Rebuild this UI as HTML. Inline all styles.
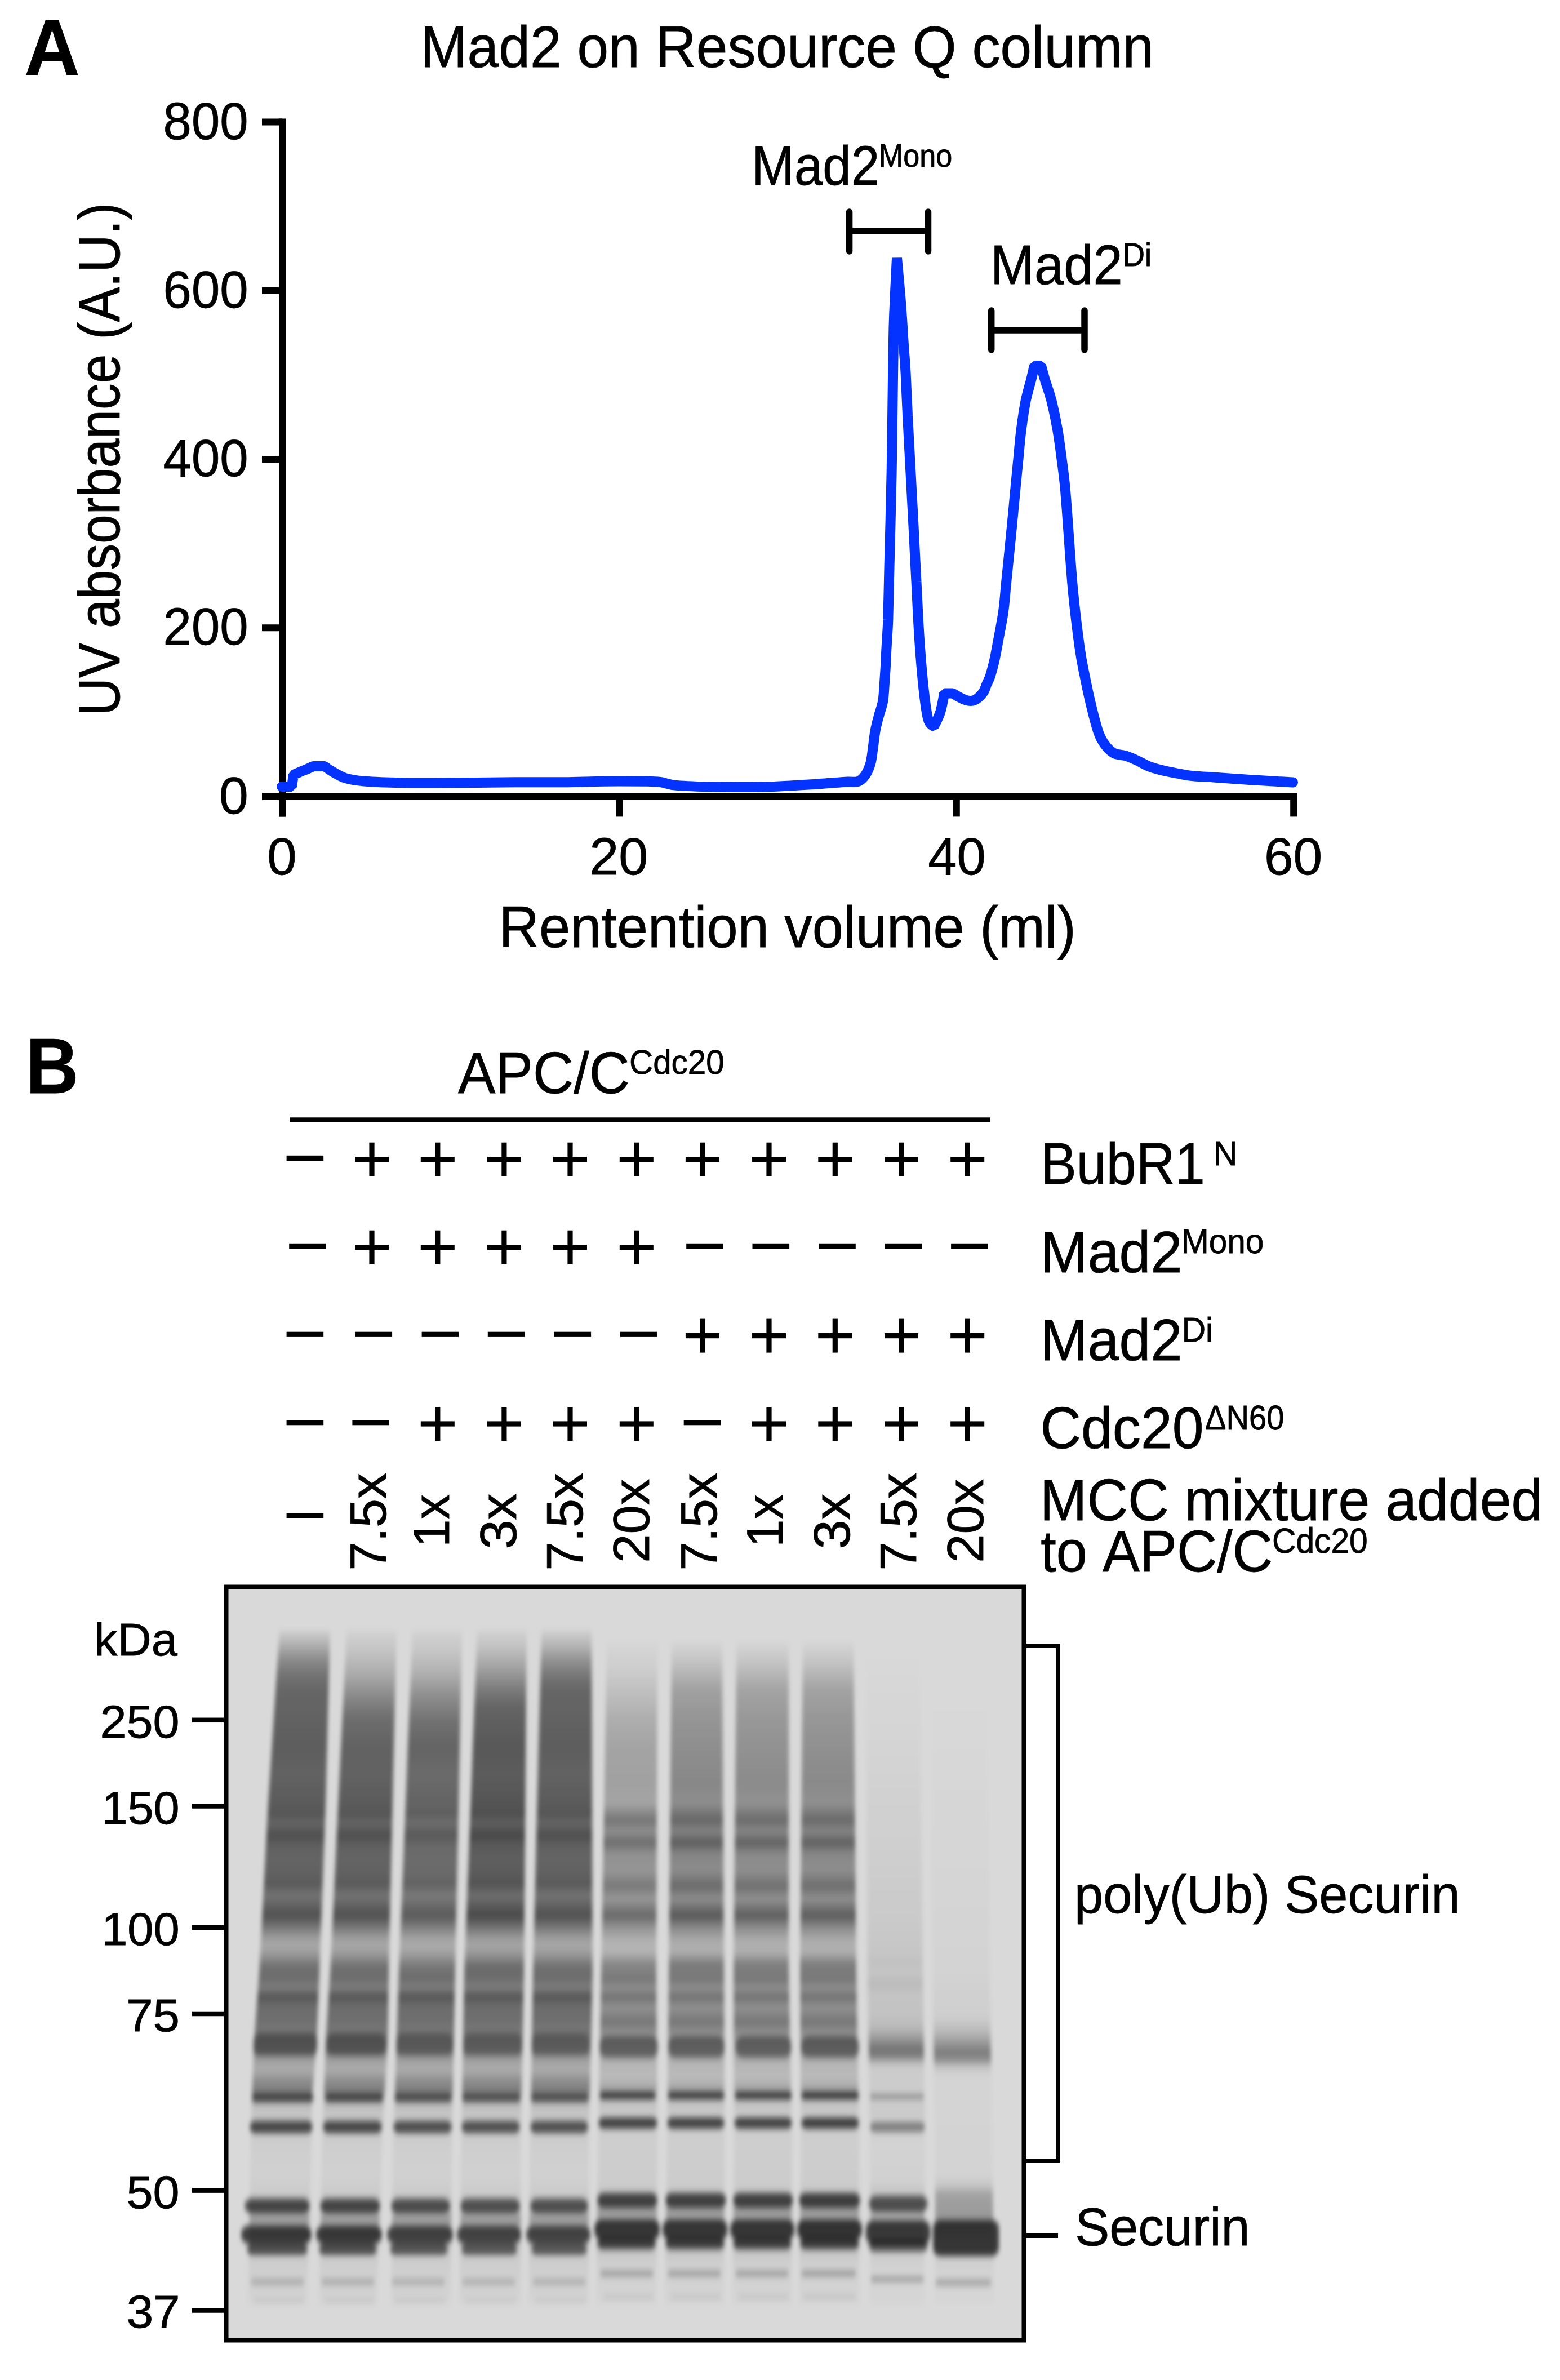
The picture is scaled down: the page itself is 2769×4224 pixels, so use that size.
<!DOCTYPE html>
<html><head><meta charset="utf-8"><style>
html,body{margin:0;padding:0;background:#fff;}
svg{display:block;}
text{font-family:"Liberation Sans", sans-serif;fill:#000;font-kerning:none;stroke:#000;stroke-width:0.8px;}
</style></head><body>
<svg width="2769" height="4224" viewBox="0 0 2769 4224">
<text transform="translate(43.62,133.00) scale(0.9689,1)" font-size="140" font-weight="bold">A</text>
<text transform="translate(746.19,119.00) scale(0.9627,1)" font-size="104">Mad2 on Resource Q column</text>
<path d="M501,210.44000000000005 V1449.4 M465,1413.4 H2302.2" stroke="#000" stroke-width="12" fill="none"/>
<line x1="465" y1="1413.4" x2="501" y2="1413.4" stroke="#000" stroke-width="12"/>
<text transform="translate(389.11,1443.70) scale(1.0000,1)" font-size="93">0</text>
<line x1="465" y1="1114.2" x2="501" y2="1114.2" stroke="#000" stroke-width="12"/>
<text transform="translate(289.61,1144.46) scale(0.9740,1)" font-size="93">200</text>
<line x1="465" y1="814.9" x2="501" y2="814.9" stroke="#000" stroke-width="12"/>
<text transform="translate(289.61,845.22) scale(0.9740,1)" font-size="93">400</text>
<line x1="465" y1="515.7" x2="501" y2="515.7" stroke="#000" stroke-width="12"/>
<text transform="translate(289.61,545.98) scale(0.9740,1)" font-size="93">600</text>
<line x1="465" y1="216.4" x2="501" y2="216.4" stroke="#000" stroke-width="12"/>
<text transform="translate(289.61,246.74) scale(0.9740,1)" font-size="93">800</text>
<line x1="501.0" y1="1413.4" x2="501.0" y2="1449.4" stroke="#000" stroke-width="12"/>
<text transform="translate(474.32,1551.70) scale(1.0122,1)" font-size="93">0</text>
<line x1="1099.4" y1="1413.4" x2="1099.4" y2="1449.4" stroke="#000" stroke-width="12"/>
<text transform="translate(1046.29,1551.70) scale(1.0059,1)" font-size="93">20</text>
<line x1="1697.8" y1="1413.4" x2="1697.8" y2="1449.4" stroke="#000" stroke-width="12"/>
<text transform="translate(1647.34,1551.70) scale(0.9900,1)" font-size="93">40</text>
<line x1="2296.2" y1="1413.4" x2="2296.2" y2="1449.4" stroke="#000" stroke-width="12"/>
<text transform="translate(2243.99,1551.70) scale(0.9980,1)" font-size="93">60</text>
<text transform="translate(211.80,1270.28) rotate(-90) scale(0.8952,1)" font-size="104">UV absorbance (A.U.)</text>
<text transform="translate(885.57,1681.00) scale(0.9528,1)" font-size="104">Rentention volume (ml)</text>
<path d="M500.0,1396.0 C503.0,1396.0 518.0,1396.0 518.0,1396.0 C518.0,1396.0 521.0,1375.0 521.0,1375.0 C521.0,1375.0 531.0,1370.7 535.0,1369.0 C539.0,1367.3 541.5,1366.5 545.0,1365.0 C548.5,1363.5 556.0,1360.0 556.0,1360.0 C556.0,1360.0 577.0,1360.0 577.0,1360.0 C577.0,1360.0 580.0,1363.5 586.0,1367.0 C592.0,1370.5 602.9,1377.8 613.0,1381.0 C623.1,1384.2 630.0,1385.1 646.7,1386.5 C663.4,1387.9 685.3,1388.8 713.0,1389.3 C740.7,1389.8 779.7,1389.5 813.0,1389.3 C846.3,1389.1 881.8,1388.5 913.0,1388.3 C944.2,1388.1 973.5,1388.5 1000.0,1388.2 C1026.5,1387.9 1047.9,1387.0 1071.8,1386.7 C1095.7,1386.5 1126.8,1386.5 1143.6,1386.7 C1160.3,1386.9 1162.7,1386.8 1172.3,1388.0 C1181.9,1389.2 1184.9,1392.5 1201.0,1393.9 C1217.1,1395.3 1242.7,1396.1 1269.0,1396.5 C1295.3,1396.9 1329.0,1397.3 1359.0,1396.5 C1389.0,1395.7 1425.2,1393.2 1448.7,1391.7 C1472.2,1390.2 1487.6,1388.5 1500.0,1387.7 C1512.4,1386.9 1517.0,1389.0 1523.0,1387.0 C1529.0,1385.0 1532.3,1380.9 1536.0,1375.5 C1539.7,1370.1 1543.0,1362.5 1545.2,1354.7 C1547.4,1346.9 1548.0,1338.1 1549.4,1328.5 C1550.8,1318.9 1551.8,1306.6 1553.6,1297.0 C1555.3,1287.4 1557.6,1279.5 1559.9,1270.7 C1562.2,1262.0 1565.5,1254.1 1567.2,1244.5 C1568.9,1234.9 1569.1,1223.5 1569.9,1213.0 C1570.7,1202.5 1571.4,1192.0 1572.0,1181.5 C1572.6,1171.0 1572.8,1163.6 1573.5,1150.0 C1574.2,1136.4 1575.5,1123.8 1576.3,1100.0 C1577.1,1076.2 1577.8,1035.2 1578.5,1006.9 C1579.2,978.6 1579.8,957.8 1580.5,930.0 C1581.2,902.2 1582.0,872.3 1582.6,840.3 C1583.2,808.2 1583.7,767.6 1584.1,737.7 C1584.5,707.8 1584.8,682.2 1585.1,660.8 C1585.4,639.4 1585.6,626.6 1585.9,609.5 C1586.2,592.4 1586.2,583.5 1587.2,558.2 C1588.2,533.0 1592.0,458.0 1592.0,458.0 C1592.0,458.0 1597.0,511.4 1599.0,536.6 C1601.0,561.9 1602.4,588.8 1603.8,609.5 C1605.2,630.2 1606.3,639.4 1607.5,660.8 C1608.7,682.2 1609.5,707.8 1611.0,737.7 C1612.5,767.6 1614.8,808.2 1616.5,840.3 C1618.2,872.3 1619.6,898.0 1621.3,930.0 C1623.0,962.0 1624.7,998.4 1626.5,1032.6 C1628.3,1066.8 1629.8,1103.0 1632.0,1135.1 C1634.2,1167.1 1637.1,1201.4 1639.7,1224.9 C1642.3,1248.4 1644.4,1265.5 1647.4,1276.2 C1650.4,1286.9 1657.7,1289.0 1657.7,1289.0 C1657.7,1289.0 1666.2,1273.0 1669.2,1263.3 C1672.2,1253.5 1676.0,1230.5 1676.0,1230.5 C1676.0,1230.5 1691.0,1230.5 1691.0,1230.5 C1691.0,1230.5 1707.5,1240.5 1714.0,1242.5 C1720.5,1244.5 1724.8,1244.8 1730.0,1242.5 C1735.2,1240.2 1741.4,1233.8 1745.0,1229.0 C1748.6,1224.2 1749.4,1218.8 1751.5,1214.0 C1753.6,1209.2 1755.3,1207.3 1757.6,1200.0 C1759.9,1192.7 1763.2,1180.3 1765.5,1170.0 C1767.8,1159.7 1769.0,1152.2 1771.6,1138.0 C1774.2,1123.8 1778.5,1103.0 1781.0,1085.0 C1783.5,1067.0 1783.9,1055.8 1786.5,1030.0 C1789.1,1004.2 1793.8,957.3 1796.5,930.0 C1799.2,902.7 1800.7,885.2 1802.5,866.0 C1804.3,846.8 1805.8,831.7 1807.5,814.6 C1809.2,797.5 1810.4,780.4 1812.6,763.3 C1814.8,746.2 1817.5,727.0 1820.5,712.0 C1823.5,697.0 1827.7,684.1 1830.3,673.6 C1832.9,663.1 1836.0,649.0 1836.0,649.0 C1836.0,649.0 1848.0,649.0 1848.0,649.0 C1848.0,649.0 1851.6,663.1 1854.7,673.6 C1857.8,684.1 1862.8,697.0 1866.6,712.0 C1870.3,727.0 1874.2,746.2 1877.2,763.3 C1880.2,780.4 1882.3,797.5 1884.5,814.6 C1886.7,831.7 1888.5,843.4 1890.6,866.0 C1892.7,888.6 1894.7,919.3 1897.0,950.0 C1899.3,980.7 1901.5,1016.7 1904.7,1050.0 C1908.0,1083.3 1913.0,1125.0 1916.5,1150.0 C1920.0,1175.0 1922.2,1183.3 1925.5,1200.0 C1928.8,1216.7 1932.2,1233.3 1936.3,1250.0 C1940.3,1266.7 1945.8,1288.3 1949.8,1300.0 C1953.8,1311.7 1956.6,1314.8 1960.0,1320.0 C1963.4,1325.2 1966.7,1328.5 1970.0,1331.5 C1973.3,1334.5 1975.5,1336.4 1980.0,1338.0 C1984.5,1339.6 1990.7,1339.3 1997.0,1341.2 C2003.3,1343.1 2011.1,1346.4 2018.1,1349.6 C2025.1,1352.8 2032.1,1357.3 2039.1,1360.1 C2046.1,1362.9 2051.3,1364.2 2060.1,1366.4 C2068.8,1368.6 2082.4,1371.2 2091.6,1373.0 C2100.8,1374.8 2104.6,1375.9 2115.0,1377.0 C2125.4,1378.1 2136.8,1378.3 2154.0,1379.5 C2171.2,1380.7 2198.8,1382.8 2218.0,1384.0 C2237.2,1385.2 2256.2,1386.2 2269.0,1387.0 C2281.8,1387.8 2290.7,1388.2 2295.0,1388.5" stroke="#0433ff" stroke-width="18" fill="none" stroke-linejoin="bevel" stroke-linecap="round"/>
<path d="M1507.6,376 V446 M1647.5,376 V446 M1507.6,410 H1647.5" stroke="#000" stroke-width="11.5" fill="none" stroke-linecap="round"/>
<path d="M1759.7,551 V621 M1925,551 V621 M1759.7,586 H1925" stroke="#000" stroke-width="11.5" fill="none" stroke-linecap="round"/>
<text transform="translate(1334.36,328.00) scale(0.9303,1)" font-size="97.5">Mad2</text>
<text transform="translate(1559.72,296.30) scale(0.9150,1)" font-size="57">Mono</text>
<text transform="translate(1757.90,503.80) scale(0.9628,1)" font-size="97.5">Mad2</text>
<text transform="translate(1992.51,471.80) scale(0.9600,1)" font-size="57">Di</text>
<text transform="translate(45.69,1939.70) scale(0.9300,1)" font-size="140" font-weight="bold">B</text>
<text transform="translate(813.11,1940.00) scale(0.9586,1)" font-size="104">APC/C</text>
<text transform="translate(1117.04,1906.00) scale(0.9404,1)" font-size="62">Cdc20</text>
<rect x="515" y="1983.3" width="1243" height="8.4" fill="#000"/>
<rect x="508.6" y="2050.8" width="65.6" height="9.2"/>
<rect x="630.0" y="2053.1" width="60" height="9.2"/><rect x="655.4" y="2027.7" width="9.2" height="60"/>
<rect x="746.8" y="2053.1" width="60" height="9.2"/><rect x="772.2" y="2027.7" width="9.2" height="60"/>
<rect x="864.9" y="2053.1" width="60" height="9.2"/><rect x="890.3" y="2027.7" width="9.2" height="60"/>
<rect x="982.0" y="2053.1" width="60" height="9.2"/><rect x="1007.4" y="2027.7" width="9.2" height="60"/>
<rect x="1099.8" y="2053.1" width="60" height="9.2"/><rect x="1125.2" y="2027.7" width="9.2" height="60"/>
<rect x="1216.9" y="2053.1" width="60" height="9.2"/><rect x="1242.3" y="2027.7" width="9.2" height="60"/>
<rect x="1335.0" y="2053.1" width="60" height="9.2"/><rect x="1360.4" y="2027.7" width="9.2" height="60"/>
<rect x="1452.3" y="2053.1" width="60" height="9.2"/><rect x="1477.7" y="2027.7" width="9.2" height="60"/>
<rect x="1570.0" y="2053.1" width="60" height="9.2"/><rect x="1595.4" y="2027.7" width="9.2" height="60"/>
<rect x="1687.2" y="2053.1" width="60" height="9.2"/><rect x="1712.6" y="2027.7" width="9.2" height="60"/>
<rect x="513.2" y="2206.8" width="65.6" height="9.2"/>
<rect x="630.0" y="2209.1" width="60" height="9.2"/><rect x="655.4" y="2183.7" width="9.2" height="60"/>
<rect x="746.8" y="2209.1" width="60" height="9.2"/><rect x="772.2" y="2183.7" width="9.2" height="60"/>
<rect x="864.9" y="2209.1" width="60" height="9.2"/><rect x="890.3" y="2183.7" width="9.2" height="60"/>
<rect x="982.0" y="2209.1" width="60" height="9.2"/><rect x="1007.4" y="2183.7" width="9.2" height="60"/>
<rect x="1099.8" y="2209.1" width="60" height="9.2"/><rect x="1125.2" y="2183.7" width="9.2" height="60"/>
<rect x="1218.2" y="2206.8" width="65.6" height="9.2"/>
<rect x="1335.5" y="2206.8" width="65.6" height="9.2"/>
<rect x="1453.2" y="2206.8" width="65.6" height="9.2"/>
<rect x="1570.5" y="2206.8" width="65.6" height="9.2"/>
<rect x="1688.1" y="2206.8" width="65.6" height="9.2"/>
<rect x="508.6" y="2363.7" width="65.6" height="9.2"/>
<rect x="630.5" y="2363.7" width="65.6" height="9.2"/>
<rect x="748.6" y="2363.7" width="65.6" height="9.2"/>
<rect x="865.8" y="2363.7" width="65.6" height="9.2"/>
<rect x="983.5" y="2363.7" width="65.6" height="9.2"/>
<rect x="1100.8" y="2363.7" width="65.6" height="9.2"/>
<rect x="1216.9" y="2366.0" width="60" height="9.2"/><rect x="1242.3" y="2340.6" width="9.2" height="60"/>
<rect x="1335.0" y="2366.0" width="60" height="9.2"/><rect x="1360.4" y="2340.6" width="9.2" height="60"/>
<rect x="1452.3" y="2366.0" width="60" height="9.2"/><rect x="1477.7" y="2340.6" width="9.2" height="60"/>
<rect x="1570.0" y="2366.0" width="60" height="9.2"/><rect x="1595.4" y="2340.6" width="9.2" height="60"/>
<rect x="1687.2" y="2366.0" width="60" height="9.2"/><rect x="1712.6" y="2340.6" width="9.2" height="60"/>
<rect x="508.6" y="2520.1" width="65.6" height="9.2"/>
<rect x="625.4" y="2520.1" width="65.6" height="9.2"/>
<rect x="746.8" y="2522.4" width="60" height="9.2"/><rect x="772.2" y="2497.0" width="9.2" height="60"/>
<rect x="864.9" y="2522.4" width="60" height="9.2"/><rect x="890.3" y="2497.0" width="9.2" height="60"/>
<rect x="982.0" y="2522.4" width="60" height="9.2"/><rect x="1007.4" y="2497.0" width="9.2" height="60"/>
<rect x="1099.8" y="2522.4" width="60" height="9.2"/><rect x="1125.2" y="2497.0" width="9.2" height="60"/>
<rect x="1213.7" y="2520.1" width="65.6" height="9.2"/>
<rect x="1335.0" y="2522.4" width="60" height="9.2"/><rect x="1360.4" y="2497.0" width="9.2" height="60"/>
<rect x="1452.3" y="2522.4" width="60" height="9.2"/><rect x="1477.7" y="2497.0" width="9.2" height="60"/>
<rect x="1570.0" y="2522.4" width="60" height="9.2"/><rect x="1595.4" y="2497.0" width="9.2" height="60"/>
<rect x="1687.2" y="2522.4" width="60" height="9.2"/><rect x="1712.6" y="2497.0" width="9.2" height="60"/>
<rect x="508.6" y="2685.4" width="65.6" height="9.2"/>
<text transform="translate(1847.28,2101.00) scale(0.9163,1)" font-size="104">BubR1</text>
<text transform="translate(2153.40,2068.00) scale(0.9707,1)" font-size="61.6">N</text>
<text transform="translate(1846.85,2258.30) scale(0.9676,1)" font-size="104">Mad2</text>
<text transform="translate(2096.89,2224.40) scale(0.9605,1)" font-size="61">Mono</text>
<text transform="translate(1846.74,2414.20) scale(0.9680,1)" font-size="104">Mad2</text>
<text transform="translate(2097.46,2381.00) scale(0.9672,1)" font-size="61">Di</text>
<text transform="translate(1846.61,2570.00) scale(0.9647,1)" font-size="104">Cdc20</text>
<text transform="translate(2138.93,2536.50) scale(0.9202,1)" font-size="61">&#916;N60</text>
<text transform="translate(1845.87,2698.40) scale(0.9652,1)" font-size="104">MCC mixture added</text>
<text transform="translate(1847.20,2788.80) scale(0.9504,1)" font-size="104">to APC/C</text>
<text transform="translate(2258.02,2755.80) scale(0.9467,1)" font-size="62">Cdc20</text>
<text transform="translate(685.40,2787.40) rotate(-90) scale(1.0081,1)" font-size="91">7.5x</text>
<text transform="translate(796.80,2745.64) rotate(-90) scale(0.9716,1)" font-size="91">1x</text>
<text transform="translate(916.20,2749.57) rotate(-90) scale(1.0309,1)" font-size="91">3x</text>
<text transform="translate(1033.80,2787.40) rotate(-90) scale(1.0081,1)" font-size="91">7.5x</text>
<text transform="translate(1151.50,2773.64) rotate(-90) scale(1.0130,1)" font-size="91">20x</text>
<text transform="translate(1272.30,2787.40) rotate(-90) scale(1.0081,1)" font-size="91">7.5x</text>
<text transform="translate(1389.00,2745.64) rotate(-90) scale(0.9716,1)" font-size="91">1x</text>
<text transform="translate(1507.70,2749.57) rotate(-90) scale(1.0309,1)" font-size="91">3x</text>
<text transform="translate(1626.30,2787.40) rotate(-90) scale(1.0081,1)" font-size="91">7.5x</text>
<text transform="translate(1744.50,2773.64) rotate(-90) scale(1.0130,1)" font-size="91">20x</text>
<text transform="translate(167.10,2937.90) scale(1.0136,1)" font-size="82">kDa</text>
<text transform="translate(177.55,3083.60) scale(1.0310,1)" font-size="82">250</text>
<rect x="341" y="3048.55" width="60" height="8.5"/>
<text transform="translate(180.39,3237.00) scale(1.0097,1)" font-size="82">150</text>
<rect x="341" y="3201.25" width="60" height="8.5"/>
<text transform="translate(180.18,3452.00) scale(1.0113,1)" font-size="82">100</text>
<rect x="341" y="3416.75" width="60" height="8.5"/>
<text transform="translate(224.13,3605.00) scale(1.0388,1)" font-size="82">75</text>
<rect x="341" y="3569.75" width="60" height="8.5"/>
<text transform="translate(224.51,3919.00) scale(1.0316,1)" font-size="82">50</text>
<rect x="341" y="3883.35" width="60" height="8.5"/>
<text transform="translate(224.65,4131.00) scale(1.0409,1)" font-size="82">37</text>
<rect x="341" y="4096.25" width="60" height="8.5"/>
<path d="M1821,2921 H1878 V3835 H1821" stroke="#000" stroke-width="8" fill="none"/>
<rect x="1821" y="3963" width="57" height="9"/>
<text transform="translate(1907.07,3394.80) scale(0.9678,1)" font-size="95">poly(Ub) Securin</text>
<text transform="translate(1908.24,3984.50) scale(0.9633,1)" font-size="95">Securin</text>
<defs>
<filter id="lb" filterUnits="userSpaceOnUse" x="380" y="2800" width="1460" height="1380"><feGaussianBlur stdDeviation="3.5 6.0"/></filter>
<linearGradient id="lg0" gradientUnits="userSpaceOnUse" x1="0" y1="2821" x2="0" y2="4149"><stop offset="0.0557" stop-color="#000" stop-opacity="0.055"/><stop offset="0.0708" stop-color="#000" stop-opacity="0.161"/><stop offset="0.0934" stop-color="#000" stop-opacity="0.355"/><stop offset="0.1130" stop-color="#000" stop-opacity="0.465"/><stop offset="0.1348" stop-color="#000" stop-opacity="0.530"/><stop offset="0.2101" stop-color="#000" stop-opacity="0.567"/><stop offset="0.2477" stop-color="#000" stop-opacity="0.548"/><stop offset="0.2907" stop-color="#000" stop-opacity="0.585"/><stop offset="0.2989" stop-color="#000" stop-opacity="0.613"/><stop offset="0.3117" stop-color="#000" stop-opacity="0.530"/><stop offset="0.3291" stop-color="#000" stop-opacity="0.641"/><stop offset="0.3419" stop-color="#000" stop-opacity="0.558"/><stop offset="0.3607" stop-color="#000" stop-opacity="0.539"/><stop offset="0.3840" stop-color="#000" stop-opacity="0.558"/><stop offset="0.3923" stop-color="#000" stop-opacity="0.594"/><stop offset="0.4096" stop-color="#000" stop-opacity="0.465"/><stop offset="0.4262" stop-color="#000" stop-opacity="0.576"/><stop offset="0.4360" stop-color="#000" stop-opacity="0.631"/><stop offset="0.4511" stop-color="#000" stop-opacity="0.456"/><stop offset="0.4661" stop-color="#000" stop-opacity="0.272"/><stop offset="0.4774" stop-color="#000" stop-opacity="0.226"/><stop offset="0.4887" stop-color="#000" stop-opacity="0.309"/><stop offset="0.5038" stop-color="#000" stop-opacity="0.484"/><stop offset="0.5188" stop-color="#000" stop-opacity="0.502"/><stop offset="0.5324" stop-color="#000" stop-opacity="0.419"/><stop offset="0.5444" stop-color="#000" stop-opacity="0.613"/><stop offset="0.5565" stop-color="#000" stop-opacity="0.502"/><stop offset="0.5738" stop-color="#000" stop-opacity="0.493"/><stop offset="0.5866" stop-color="#000" stop-opacity="0.456"/><stop offset="0.5956" stop-color="#000" stop-opacity="0.484"/><stop offset="0.6167" stop-color="#000" stop-opacity="0.456"/><stop offset="0.6280" stop-color="#000" stop-opacity="0.263"/><stop offset="0.6431" stop-color="#000" stop-opacity="0.207"/><stop offset="0.6574" stop-color="#000" stop-opacity="0.355"/><stop offset="0.6709" stop-color="#000" stop-opacity="0.424"/><stop offset="0.6883" stop-color="#000" stop-opacity="0.134"/><stop offset="0.6995" stop-color="#000" stop-opacity="0.088"/><stop offset="0.7086" stop-color="#000" stop-opacity="0.101"/><stop offset="0.7297" stop-color="#000" stop-opacity="0.065"/><stop offset="0.7447" stop-color="#000" stop-opacity="0.051"/><stop offset="0.7824" stop-color="#000" stop-opacity="0.041"/><stop offset="0.8050" stop-color="#000" stop-opacity="0.060"/><stop offset="0.8291" stop-color="#000" stop-opacity="0.171"/><stop offset="0.8426" stop-color="#000" stop-opacity="0.309"/><stop offset="0.8562" stop-color="#000" stop-opacity="0.147"/><stop offset="0.8878" stop-color="#000" stop-opacity="0.078"/><stop offset="0.9029" stop-color="#000" stop-opacity="0.051"/><stop offset="0.9556" stop-color="#000" stop-opacity="0.023"/></linearGradient>
<linearGradient id="lg1" gradientUnits="userSpaceOnUse" x1="0" y1="2821" x2="0" y2="4149"><stop offset="0.0557" stop-color="#000" stop-opacity="0.032"/><stop offset="0.0821" stop-color="#000" stop-opacity="0.097"/><stop offset="0.1122" stop-color="#000" stop-opacity="0.207"/><stop offset="0.1423" stop-color="#000" stop-opacity="0.364"/><stop offset="0.1709" stop-color="#000" stop-opacity="0.493"/><stop offset="0.2101" stop-color="#000" stop-opacity="0.548"/><stop offset="0.2477" stop-color="#000" stop-opacity="0.548"/><stop offset="0.2907" stop-color="#000" stop-opacity="0.585"/><stop offset="0.2989" stop-color="#000" stop-opacity="0.613"/><stop offset="0.3117" stop-color="#000" stop-opacity="0.530"/><stop offset="0.3291" stop-color="#000" stop-opacity="0.641"/><stop offset="0.3419" stop-color="#000" stop-opacity="0.558"/><stop offset="0.3607" stop-color="#000" stop-opacity="0.539"/><stop offset="0.3840" stop-color="#000" stop-opacity="0.558"/><stop offset="0.3923" stop-color="#000" stop-opacity="0.594"/><stop offset="0.4096" stop-color="#000" stop-opacity="0.465"/><stop offset="0.4262" stop-color="#000" stop-opacity="0.576"/><stop offset="0.4360" stop-color="#000" stop-opacity="0.631"/><stop offset="0.4511" stop-color="#000" stop-opacity="0.456"/><stop offset="0.4661" stop-color="#000" stop-opacity="0.272"/><stop offset="0.4774" stop-color="#000" stop-opacity="0.226"/><stop offset="0.4887" stop-color="#000" stop-opacity="0.309"/><stop offset="0.5038" stop-color="#000" stop-opacity="0.484"/><stop offset="0.5188" stop-color="#000" stop-opacity="0.502"/><stop offset="0.5324" stop-color="#000" stop-opacity="0.419"/><stop offset="0.5444" stop-color="#000" stop-opacity="0.613"/><stop offset="0.5565" stop-color="#000" stop-opacity="0.502"/><stop offset="0.5738" stop-color="#000" stop-opacity="0.493"/><stop offset="0.5866" stop-color="#000" stop-opacity="0.456"/><stop offset="0.5956" stop-color="#000" stop-opacity="0.484"/><stop offset="0.6167" stop-color="#000" stop-opacity="0.456"/><stop offset="0.6280" stop-color="#000" stop-opacity="0.263"/><stop offset="0.6431" stop-color="#000" stop-opacity="0.207"/><stop offset="0.6574" stop-color="#000" stop-opacity="0.355"/><stop offset="0.6709" stop-color="#000" stop-opacity="0.424"/><stop offset="0.6883" stop-color="#000" stop-opacity="0.134"/><stop offset="0.6995" stop-color="#000" stop-opacity="0.088"/><stop offset="0.7086" stop-color="#000" stop-opacity="0.101"/><stop offset="0.7297" stop-color="#000" stop-opacity="0.065"/><stop offset="0.7447" stop-color="#000" stop-opacity="0.051"/><stop offset="0.7824" stop-color="#000" stop-opacity="0.041"/><stop offset="0.8050" stop-color="#000" stop-opacity="0.060"/><stop offset="0.8291" stop-color="#000" stop-opacity="0.171"/><stop offset="0.8426" stop-color="#000" stop-opacity="0.309"/><stop offset="0.8562" stop-color="#000" stop-opacity="0.147"/><stop offset="0.8878" stop-color="#000" stop-opacity="0.078"/><stop offset="0.9029" stop-color="#000" stop-opacity="0.051"/><stop offset="0.9556" stop-color="#000" stop-opacity="0.023"/></linearGradient>
<linearGradient id="lg2" gradientUnits="userSpaceOnUse" x1="0" y1="2821" x2="0" y2="4149"><stop offset="0.0557" stop-color="#000" stop-opacity="0.032"/><stop offset="0.0821" stop-color="#000" stop-opacity="0.088"/><stop offset="0.1122" stop-color="#000" stop-opacity="0.189"/><stop offset="0.1423" stop-color="#000" stop-opacity="0.346"/><stop offset="0.1777" stop-color="#000" stop-opacity="0.484"/><stop offset="0.2101" stop-color="#000" stop-opacity="0.539"/><stop offset="0.2477" stop-color="#000" stop-opacity="0.510"/><stop offset="0.2907" stop-color="#000" stop-opacity="0.544"/><stop offset="0.2989" stop-color="#000" stop-opacity="0.570"/><stop offset="0.3117" stop-color="#000" stop-opacity="0.493"/><stop offset="0.3291" stop-color="#000" stop-opacity="0.596"/><stop offset="0.3419" stop-color="#000" stop-opacity="0.519"/><stop offset="0.3607" stop-color="#000" stop-opacity="0.501"/><stop offset="0.3840" stop-color="#000" stop-opacity="0.519"/><stop offset="0.3923" stop-color="#000" stop-opacity="0.553"/><stop offset="0.4096" stop-color="#000" stop-opacity="0.433"/><stop offset="0.4262" stop-color="#000" stop-opacity="0.536"/><stop offset="0.4360" stop-color="#000" stop-opacity="0.587"/><stop offset="0.4511" stop-color="#000" stop-opacity="0.424"/><stop offset="0.4661" stop-color="#000" stop-opacity="0.253"/><stop offset="0.4774" stop-color="#000" stop-opacity="0.210"/><stop offset="0.4887" stop-color="#000" stop-opacity="0.287"/><stop offset="0.5038" stop-color="#000" stop-opacity="0.450"/><stop offset="0.5188" stop-color="#000" stop-opacity="0.502"/><stop offset="0.5324" stop-color="#000" stop-opacity="0.419"/><stop offset="0.5444" stop-color="#000" stop-opacity="0.613"/><stop offset="0.5565" stop-color="#000" stop-opacity="0.502"/><stop offset="0.5738" stop-color="#000" stop-opacity="0.493"/><stop offset="0.5866" stop-color="#000" stop-opacity="0.456"/><stop offset="0.5956" stop-color="#000" stop-opacity="0.484"/><stop offset="0.6167" stop-color="#000" stop-opacity="0.456"/><stop offset="0.6280" stop-color="#000" stop-opacity="0.263"/><stop offset="0.6431" stop-color="#000" stop-opacity="0.207"/><stop offset="0.6574" stop-color="#000" stop-opacity="0.355"/><stop offset="0.6709" stop-color="#000" stop-opacity="0.424"/><stop offset="0.6883" stop-color="#000" stop-opacity="0.134"/><stop offset="0.6995" stop-color="#000" stop-opacity="0.088"/><stop offset="0.7086" stop-color="#000" stop-opacity="0.101"/><stop offset="0.7297" stop-color="#000" stop-opacity="0.065"/><stop offset="0.7447" stop-color="#000" stop-opacity="0.051"/><stop offset="0.7824" stop-color="#000" stop-opacity="0.041"/><stop offset="0.8050" stop-color="#000" stop-opacity="0.060"/><stop offset="0.8291" stop-color="#000" stop-opacity="0.171"/><stop offset="0.8426" stop-color="#000" stop-opacity="0.309"/><stop offset="0.8562" stop-color="#000" stop-opacity="0.147"/><stop offset="0.8878" stop-color="#000" stop-opacity="0.078"/><stop offset="0.9029" stop-color="#000" stop-opacity="0.051"/><stop offset="0.9556" stop-color="#000" stop-opacity="0.023"/></linearGradient>
<linearGradient id="lg3" gradientUnits="userSpaceOnUse" x1="0" y1="2821" x2="0" y2="4149"><stop offset="0.0557" stop-color="#000" stop-opacity="0.041"/><stop offset="0.0745" stop-color="#000" stop-opacity="0.097"/><stop offset="0.1047" stop-color="#000" stop-opacity="0.253"/><stop offset="0.1348" stop-color="#000" stop-opacity="0.438"/><stop offset="0.1574" stop-color="#000" stop-opacity="0.539"/><stop offset="0.2101" stop-color="#000" stop-opacity="0.594"/><stop offset="0.2477" stop-color="#000" stop-opacity="0.576"/><stop offset="0.2907" stop-color="#000" stop-opacity="0.615"/><stop offset="0.2989" stop-color="#000" stop-opacity="0.644"/><stop offset="0.3117" stop-color="#000" stop-opacity="0.556"/><stop offset="0.3291" stop-color="#000" stop-opacity="0.673"/><stop offset="0.3419" stop-color="#000" stop-opacity="0.585"/><stop offset="0.3607" stop-color="#000" stop-opacity="0.566"/><stop offset="0.3840" stop-color="#000" stop-opacity="0.585"/><stop offset="0.3923" stop-color="#000" stop-opacity="0.624"/><stop offset="0.4096" stop-color="#000" stop-opacity="0.489"/><stop offset="0.4262" stop-color="#000" stop-opacity="0.605"/><stop offset="0.4360" stop-color="#000" stop-opacity="0.663"/><stop offset="0.4511" stop-color="#000" stop-opacity="0.479"/><stop offset="0.4661" stop-color="#000" stop-opacity="0.285"/><stop offset="0.4774" stop-color="#000" stop-opacity="0.237"/><stop offset="0.4887" stop-color="#000" stop-opacity="0.324"/><stop offset="0.5038" stop-color="#000" stop-opacity="0.508"/><stop offset="0.5188" stop-color="#000" stop-opacity="0.502"/><stop offset="0.5324" stop-color="#000" stop-opacity="0.419"/><stop offset="0.5444" stop-color="#000" stop-opacity="0.613"/><stop offset="0.5565" stop-color="#000" stop-opacity="0.502"/><stop offset="0.5738" stop-color="#000" stop-opacity="0.493"/><stop offset="0.5866" stop-color="#000" stop-opacity="0.456"/><stop offset="0.5956" stop-color="#000" stop-opacity="0.484"/><stop offset="0.6167" stop-color="#000" stop-opacity="0.456"/><stop offset="0.6280" stop-color="#000" stop-opacity="0.263"/><stop offset="0.6431" stop-color="#000" stop-opacity="0.207"/><stop offset="0.6574" stop-color="#000" stop-opacity="0.355"/><stop offset="0.6709" stop-color="#000" stop-opacity="0.424"/><stop offset="0.6883" stop-color="#000" stop-opacity="0.134"/><stop offset="0.6995" stop-color="#000" stop-opacity="0.088"/><stop offset="0.7086" stop-color="#000" stop-opacity="0.101"/><stop offset="0.7297" stop-color="#000" stop-opacity="0.065"/><stop offset="0.7447" stop-color="#000" stop-opacity="0.051"/><stop offset="0.7824" stop-color="#000" stop-opacity="0.041"/><stop offset="0.8050" stop-color="#000" stop-opacity="0.060"/><stop offset="0.8291" stop-color="#000" stop-opacity="0.171"/><stop offset="0.8426" stop-color="#000" stop-opacity="0.309"/><stop offset="0.8562" stop-color="#000" stop-opacity="0.147"/><stop offset="0.8878" stop-color="#000" stop-opacity="0.078"/><stop offset="0.9029" stop-color="#000" stop-opacity="0.051"/><stop offset="0.9556" stop-color="#000" stop-opacity="0.023"/></linearGradient>
<linearGradient id="lg4" gradientUnits="userSpaceOnUse" x1="0" y1="2821" x2="0" y2="4149"><stop offset="0.0557" stop-color="#000" stop-opacity="0.051"/><stop offset="0.0745" stop-color="#000" stop-opacity="0.161"/><stop offset="0.0971" stop-color="#000" stop-opacity="0.346"/><stop offset="0.1197" stop-color="#000" stop-opacity="0.475"/><stop offset="0.1348" stop-color="#000" stop-opacity="0.530"/><stop offset="0.2101" stop-color="#000" stop-opacity="0.567"/><stop offset="0.2477" stop-color="#000" stop-opacity="0.548"/><stop offset="0.2907" stop-color="#000" stop-opacity="0.585"/><stop offset="0.2989" stop-color="#000" stop-opacity="0.613"/><stop offset="0.3117" stop-color="#000" stop-opacity="0.530"/><stop offset="0.3291" stop-color="#000" stop-opacity="0.641"/><stop offset="0.3419" stop-color="#000" stop-opacity="0.558"/><stop offset="0.3607" stop-color="#000" stop-opacity="0.539"/><stop offset="0.3840" stop-color="#000" stop-opacity="0.558"/><stop offset="0.3923" stop-color="#000" stop-opacity="0.594"/><stop offset="0.4096" stop-color="#000" stop-opacity="0.465"/><stop offset="0.4262" stop-color="#000" stop-opacity="0.576"/><stop offset="0.4360" stop-color="#000" stop-opacity="0.631"/><stop offset="0.4511" stop-color="#000" stop-opacity="0.456"/><stop offset="0.4661" stop-color="#000" stop-opacity="0.272"/><stop offset="0.4774" stop-color="#000" stop-opacity="0.226"/><stop offset="0.4887" stop-color="#000" stop-opacity="0.309"/><stop offset="0.5038" stop-color="#000" stop-opacity="0.484"/><stop offset="0.5188" stop-color="#000" stop-opacity="0.502"/><stop offset="0.5324" stop-color="#000" stop-opacity="0.419"/><stop offset="0.5444" stop-color="#000" stop-opacity="0.613"/><stop offset="0.5565" stop-color="#000" stop-opacity="0.502"/><stop offset="0.5738" stop-color="#000" stop-opacity="0.493"/><stop offset="0.5866" stop-color="#000" stop-opacity="0.456"/><stop offset="0.5956" stop-color="#000" stop-opacity="0.484"/><stop offset="0.6167" stop-color="#000" stop-opacity="0.456"/><stop offset="0.6280" stop-color="#000" stop-opacity="0.263"/><stop offset="0.6431" stop-color="#000" stop-opacity="0.207"/><stop offset="0.6574" stop-color="#000" stop-opacity="0.355"/><stop offset="0.6709" stop-color="#000" stop-opacity="0.424"/><stop offset="0.6883" stop-color="#000" stop-opacity="0.134"/><stop offset="0.6995" stop-color="#000" stop-opacity="0.088"/><stop offset="0.7086" stop-color="#000" stop-opacity="0.101"/><stop offset="0.7297" stop-color="#000" stop-opacity="0.065"/><stop offset="0.7447" stop-color="#000" stop-opacity="0.051"/><stop offset="0.7824" stop-color="#000" stop-opacity="0.041"/><stop offset="0.8050" stop-color="#000" stop-opacity="0.060"/><stop offset="0.8291" stop-color="#000" stop-opacity="0.171"/><stop offset="0.8426" stop-color="#000" stop-opacity="0.309"/><stop offset="0.8562" stop-color="#000" stop-opacity="0.147"/><stop offset="0.8878" stop-color="#000" stop-opacity="0.078"/><stop offset="0.9029" stop-color="#000" stop-opacity="0.051"/><stop offset="0.9556" stop-color="#000" stop-opacity="0.023"/></linearGradient>
<linearGradient id="lg5" gradientUnits="userSpaceOnUse" x1="0" y1="2821" x2="0" y2="4149"><stop offset="0.0708" stop-color="#000" stop-opacity="0.014"/><stop offset="0.1047" stop-color="#000" stop-opacity="0.051"/><stop offset="0.1348" stop-color="#000" stop-opacity="0.115"/><stop offset="0.1724" stop-color="#000" stop-opacity="0.198"/><stop offset="0.2101" stop-color="#000" stop-opacity="0.244"/><stop offset="0.2590" stop-color="#000" stop-opacity="0.262"/><stop offset="0.2854" stop-color="#000" stop-opacity="0.240"/><stop offset="0.3087" stop-color="#000" stop-opacity="0.465"/><stop offset="0.3230" stop-color="#000" stop-opacity="0.336"/><stop offset="0.3381" stop-color="#000" stop-opacity="0.502"/><stop offset="0.3532" stop-color="#000" stop-opacity="0.336"/><stop offset="0.3758" stop-color="#000" stop-opacity="0.309"/><stop offset="0.3968" stop-color="#000" stop-opacity="0.447"/><stop offset="0.4134" stop-color="#000" stop-opacity="0.300"/><stop offset="0.4360" stop-color="#000" stop-opacity="0.521"/><stop offset="0.4511" stop-color="#000" stop-opacity="0.327"/><stop offset="0.4699" stop-color="#000" stop-opacity="0.180"/><stop offset="0.4849" stop-color="#000" stop-opacity="0.171"/><stop offset="0.5000" stop-color="#000" stop-opacity="0.373"/><stop offset="0.5226" stop-color="#000" stop-opacity="0.447"/><stop offset="0.5324" stop-color="#000" stop-opacity="0.336"/><stop offset="0.5452" stop-color="#000" stop-opacity="0.484"/><stop offset="0.5580" stop-color="#000" stop-opacity="0.327"/><stop offset="0.5776" stop-color="#000" stop-opacity="0.456"/><stop offset="0.5904" stop-color="#000" stop-opacity="0.355"/><stop offset="0.6017" stop-color="#000" stop-opacity="0.309"/><stop offset="0.6242" stop-color="#000" stop-opacity="0.226"/><stop offset="0.6355" stop-color="#000" stop-opacity="0.161"/><stop offset="0.6544" stop-color="#000" stop-opacity="0.143"/><stop offset="0.6657" stop-color="#000" stop-opacity="0.240"/><stop offset="0.6845" stop-color="#000" stop-opacity="0.115"/><stop offset="0.6995" stop-color="#000" stop-opacity="0.069"/><stop offset="0.7372" stop-color="#000" stop-opacity="0.051"/><stop offset="0.7974" stop-color="#000" stop-opacity="0.060"/><stop offset="0.8163" stop-color="#000" stop-opacity="0.171"/><stop offset="0.8313" stop-color="#000" stop-opacity="0.309"/><stop offset="0.8464" stop-color="#000" stop-opacity="0.171"/><stop offset="0.8803" stop-color="#000" stop-opacity="0.101"/><stop offset="0.9029" stop-color="#000" stop-opacity="0.041"/><stop offset="0.9443" stop-color="#000" stop-opacity="0.023"/></linearGradient>
<linearGradient id="lg6" gradientUnits="userSpaceOnUse" x1="0" y1="2821" x2="0" y2="4149"><stop offset="0.0708" stop-color="#000" stop-opacity="0.016"/><stop offset="0.0971" stop-color="#000" stop-opacity="0.101"/><stop offset="0.1348" stop-color="#000" stop-opacity="0.260"/><stop offset="0.1724" stop-color="#000" stop-opacity="0.313"/><stop offset="0.2101" stop-color="#000" stop-opacity="0.344"/><stop offset="0.2590" stop-color="#000" stop-opacity="0.376"/><stop offset="0.2854" stop-color="#000" stop-opacity="0.344"/><stop offset="0.3087" stop-color="#000" stop-opacity="0.535"/><stop offset="0.3230" stop-color="#000" stop-opacity="0.387"/><stop offset="0.3381" stop-color="#000" stop-opacity="0.578"/><stop offset="0.3532" stop-color="#000" stop-opacity="0.387"/><stop offset="0.3758" stop-color="#000" stop-opacity="0.355"/><stop offset="0.3968" stop-color="#000" stop-opacity="0.514"/><stop offset="0.4134" stop-color="#000" stop-opacity="0.344"/><stop offset="0.4360" stop-color="#000" stop-opacity="0.599"/><stop offset="0.4511" stop-color="#000" stop-opacity="0.376"/><stop offset="0.4699" stop-color="#000" stop-opacity="0.207"/><stop offset="0.4849" stop-color="#000" stop-opacity="0.196"/><stop offset="0.5000" stop-color="#000" stop-opacity="0.429"/><stop offset="0.5226" stop-color="#000" stop-opacity="0.447"/><stop offset="0.5324" stop-color="#000" stop-opacity="0.336"/><stop offset="0.5452" stop-color="#000" stop-opacity="0.484"/><stop offset="0.5580" stop-color="#000" stop-opacity="0.327"/><stop offset="0.5776" stop-color="#000" stop-opacity="0.456"/><stop offset="0.5904" stop-color="#000" stop-opacity="0.355"/><stop offset="0.6017" stop-color="#000" stop-opacity="0.309"/><stop offset="0.6242" stop-color="#000" stop-opacity="0.226"/><stop offset="0.6355" stop-color="#000" stop-opacity="0.161"/><stop offset="0.6544" stop-color="#000" stop-opacity="0.143"/><stop offset="0.6657" stop-color="#000" stop-opacity="0.240"/><stop offset="0.6845" stop-color="#000" stop-opacity="0.115"/><stop offset="0.6995" stop-color="#000" stop-opacity="0.069"/><stop offset="0.7372" stop-color="#000" stop-opacity="0.051"/><stop offset="0.7974" stop-color="#000" stop-opacity="0.060"/><stop offset="0.8163" stop-color="#000" stop-opacity="0.171"/><stop offset="0.8313" stop-color="#000" stop-opacity="0.309"/><stop offset="0.8464" stop-color="#000" stop-opacity="0.171"/><stop offset="0.8803" stop-color="#000" stop-opacity="0.101"/><stop offset="0.9029" stop-color="#000" stop-opacity="0.041"/><stop offset="0.9443" stop-color="#000" stop-opacity="0.023"/></linearGradient>
<linearGradient id="lg7" gradientUnits="userSpaceOnUse" x1="0" y1="2821" x2="0" y2="4149"><stop offset="0.0708" stop-color="#000" stop-opacity="0.015"/><stop offset="0.0971" stop-color="#000" stop-opacity="0.096"/><stop offset="0.1348" stop-color="#000" stop-opacity="0.248"/><stop offset="0.1724" stop-color="#000" stop-opacity="0.299"/><stop offset="0.2101" stop-color="#000" stop-opacity="0.329"/><stop offset="0.2590" stop-color="#000" stop-opacity="0.360"/><stop offset="0.2854" stop-color="#000" stop-opacity="0.329"/><stop offset="0.3087" stop-color="#000" stop-opacity="0.512"/><stop offset="0.3230" stop-color="#000" stop-opacity="0.370"/><stop offset="0.3381" stop-color="#000" stop-opacity="0.553"/><stop offset="0.3532" stop-color="#000" stop-opacity="0.370"/><stop offset="0.3758" stop-color="#000" stop-opacity="0.340"/><stop offset="0.3968" stop-color="#000" stop-opacity="0.492"/><stop offset="0.4134" stop-color="#000" stop-opacity="0.329"/><stop offset="0.4360" stop-color="#000" stop-opacity="0.573"/><stop offset="0.4511" stop-color="#000" stop-opacity="0.360"/><stop offset="0.4699" stop-color="#000" stop-opacity="0.198"/><stop offset="0.4849" stop-color="#000" stop-opacity="0.188"/><stop offset="0.5000" stop-color="#000" stop-opacity="0.411"/><stop offset="0.5226" stop-color="#000" stop-opacity="0.447"/><stop offset="0.5324" stop-color="#000" stop-opacity="0.336"/><stop offset="0.5452" stop-color="#000" stop-opacity="0.484"/><stop offset="0.5580" stop-color="#000" stop-opacity="0.327"/><stop offset="0.5776" stop-color="#000" stop-opacity="0.456"/><stop offset="0.5904" stop-color="#000" stop-opacity="0.355"/><stop offset="0.6017" stop-color="#000" stop-opacity="0.309"/><stop offset="0.6242" stop-color="#000" stop-opacity="0.226"/><stop offset="0.6355" stop-color="#000" stop-opacity="0.161"/><stop offset="0.6544" stop-color="#000" stop-opacity="0.143"/><stop offset="0.6657" stop-color="#000" stop-opacity="0.240"/><stop offset="0.6845" stop-color="#000" stop-opacity="0.115"/><stop offset="0.6995" stop-color="#000" stop-opacity="0.069"/><stop offset="0.7372" stop-color="#000" stop-opacity="0.051"/><stop offset="0.7974" stop-color="#000" stop-opacity="0.060"/><stop offset="0.8163" stop-color="#000" stop-opacity="0.171"/><stop offset="0.8313" stop-color="#000" stop-opacity="0.309"/><stop offset="0.8464" stop-color="#000" stop-opacity="0.171"/><stop offset="0.8803" stop-color="#000" stop-opacity="0.101"/><stop offset="0.9029" stop-color="#000" stop-opacity="0.041"/><stop offset="0.9443" stop-color="#000" stop-opacity="0.023"/></linearGradient>
<linearGradient id="lg8" gradientUnits="userSpaceOnUse" x1="0" y1="2821" x2="0" y2="4149"><stop offset="0.0708" stop-color="#000" stop-opacity="0.015"/><stop offset="0.0971" stop-color="#000" stop-opacity="0.098"/><stop offset="0.1348" stop-color="#000" stop-opacity="0.253"/><stop offset="0.1724" stop-color="#000" stop-opacity="0.305"/><stop offset="0.2101" stop-color="#000" stop-opacity="0.335"/><stop offset="0.2590" stop-color="#000" stop-opacity="0.366"/><stop offset="0.2854" stop-color="#000" stop-opacity="0.335"/><stop offset="0.3087" stop-color="#000" stop-opacity="0.521"/><stop offset="0.3230" stop-color="#000" stop-opacity="0.377"/><stop offset="0.3381" stop-color="#000" stop-opacity="0.563"/><stop offset="0.3532" stop-color="#000" stop-opacity="0.377"/><stop offset="0.3758" stop-color="#000" stop-opacity="0.346"/><stop offset="0.3968" stop-color="#000" stop-opacity="0.501"/><stop offset="0.4134" stop-color="#000" stop-opacity="0.335"/><stop offset="0.4360" stop-color="#000" stop-opacity="0.583"/><stop offset="0.4511" stop-color="#000" stop-opacity="0.366"/><stop offset="0.4699" stop-color="#000" stop-opacity="0.201"/><stop offset="0.4849" stop-color="#000" stop-opacity="0.191"/><stop offset="0.5000" stop-color="#000" stop-opacity="0.418"/><stop offset="0.5226" stop-color="#000" stop-opacity="0.447"/><stop offset="0.5324" stop-color="#000" stop-opacity="0.336"/><stop offset="0.5452" stop-color="#000" stop-opacity="0.484"/><stop offset="0.5580" stop-color="#000" stop-opacity="0.327"/><stop offset="0.5776" stop-color="#000" stop-opacity="0.456"/><stop offset="0.5904" stop-color="#000" stop-opacity="0.355"/><stop offset="0.6017" stop-color="#000" stop-opacity="0.309"/><stop offset="0.6242" stop-color="#000" stop-opacity="0.226"/><stop offset="0.6355" stop-color="#000" stop-opacity="0.161"/><stop offset="0.6544" stop-color="#000" stop-opacity="0.143"/><stop offset="0.6657" stop-color="#000" stop-opacity="0.240"/><stop offset="0.6845" stop-color="#000" stop-opacity="0.115"/><stop offset="0.6995" stop-color="#000" stop-opacity="0.069"/><stop offset="0.7372" stop-color="#000" stop-opacity="0.051"/><stop offset="0.7974" stop-color="#000" stop-opacity="0.060"/><stop offset="0.8163" stop-color="#000" stop-opacity="0.171"/><stop offset="0.8313" stop-color="#000" stop-opacity="0.309"/><stop offset="0.8464" stop-color="#000" stop-opacity="0.171"/><stop offset="0.8803" stop-color="#000" stop-opacity="0.101"/><stop offset="0.9029" stop-color="#000" stop-opacity="0.041"/><stop offset="0.9443" stop-color="#000" stop-opacity="0.023"/></linearGradient>
<linearGradient id="lg9" gradientUnits="userSpaceOnUse" x1="0" y1="2821" x2="0" y2="4149"><stop offset="0.0821" stop-color="#000" stop-opacity="0.000"/><stop offset="0.2101" stop-color="#000" stop-opacity="0.023"/><stop offset="0.3607" stop-color="#000" stop-opacity="0.051"/><stop offset="0.4360" stop-color="#000" stop-opacity="0.069"/><stop offset="0.4887" stop-color="#000" stop-opacity="0.088"/><stop offset="0.4962" stop-color="#000" stop-opacity="0.115"/><stop offset="0.5113" stop-color="#000" stop-opacity="0.088"/><stop offset="0.5264" stop-color="#000" stop-opacity="0.143"/><stop offset="0.5414" stop-color="#000" stop-opacity="0.097"/><stop offset="0.5715" stop-color="#000" stop-opacity="0.106"/><stop offset="0.5866" stop-color="#000" stop-opacity="0.152"/><stop offset="0.6017" stop-color="#000" stop-opacity="0.309"/><stop offset="0.6130" stop-color="#000" stop-opacity="0.465"/><stop offset="0.6227" stop-color="#000" stop-opacity="0.438"/><stop offset="0.6318" stop-color="#000" stop-opacity="0.147"/><stop offset="0.6408" stop-color="#000" stop-opacity="0.060"/><stop offset="0.6694" stop-color="#000" stop-opacity="0.060"/><stop offset="0.6920" stop-color="#000" stop-opacity="0.069"/><stop offset="0.7410" stop-color="#000" stop-opacity="0.028"/><stop offset="0.7899" stop-color="#000" stop-opacity="0.037"/><stop offset="0.8125" stop-color="#000" stop-opacity="0.115"/><stop offset="0.8366" stop-color="#000" stop-opacity="0.253"/><stop offset="0.8502" stop-color="#000" stop-opacity="0.134"/><stop offset="0.8878" stop-color="#000" stop-opacity="0.065"/><stop offset="0.9089" stop-color="#000" stop-opacity="0.028"/><stop offset="0.9443" stop-color="#000" stop-opacity="0.018"/></linearGradient>
<linearGradient id="lg10" gradientUnits="userSpaceOnUse" x1="0" y1="2821" x2="0" y2="4149"><stop offset="0.0821" stop-color="#000" stop-opacity="0.000"/><stop offset="0.1348" stop-color="#000" stop-opacity="0.000"/><stop offset="0.5113" stop-color="#000" stop-opacity="0.028"/><stop offset="0.5715" stop-color="#000" stop-opacity="0.051"/><stop offset="0.5904" stop-color="#000" stop-opacity="0.143"/><stop offset="0.6054" stop-color="#000" stop-opacity="0.286"/><stop offset="0.6182" stop-color="#000" stop-opacity="0.429"/><stop offset="0.6280" stop-color="#000" stop-opacity="0.355"/><stop offset="0.6378" stop-color="#000" stop-opacity="0.097"/><stop offset="0.6506" stop-color="#000" stop-opacity="0.023"/><stop offset="0.7824" stop-color="#000" stop-opacity="0.028"/><stop offset="0.7974" stop-color="#000" stop-opacity="0.088"/><stop offset="0.8072" stop-color="#000" stop-opacity="0.249"/><stop offset="0.8389" stop-color="#000" stop-opacity="0.300"/><stop offset="0.8502" stop-color="#000" stop-opacity="0.180"/><stop offset="0.8878" stop-color="#000" stop-opacity="0.065"/><stop offset="0.9104" stop-color="#000" stop-opacity="0.028"/><stop offset="0.9556" stop-color="#000" stop-opacity="0.009"/></linearGradient>
</defs>
<rect x="401.25" y="2816.75" width="1416.5" height="1336.5" fill="#d9d9d9"/>
<g filter="url(#lb)"><polygon points="496,2895 476,3200 460,3500 451,3625 447,3722 445,3800 440,4090 545,4090 553,3800 554,3722 562,3625 567,3500 578,3200 586,2895" fill="url(#lg0)"/>
<rect x="449" y="3609.0" width="115" height="40" rx="14.0" fill="#000" fill-opacity="0.308"/>
<rect x="447" y="3715.0" width="110" height="16" rx="8.0" fill="#000" fill-opacity="0.561"/>
<rect x="443" y="3764.0" width="112" height="22" rx="11.0" fill="#000" fill-opacity="0.640"/>
<rect x="434" y="3902.0" width="116" height="26" rx="13.0" fill="#000" fill-opacity="0.630"/>
<rect x="428" y="3950.0" width="125" height="32" rx="14.0" fill="#000" fill-opacity="0.707"/>
<rect x="438" y="3982.0" width="108" height="20" rx="10.0" fill="#000" fill-opacity="0.612"/>
<rect x="445" y="4044.0" width="95" height="12" rx="6.0" fill="#000" fill-opacity="0.173"/>
<rect x="450" y="4079.0" width="90" height="8" rx="4.0" fill="#000" fill-opacity="0.071"/>
<polygon points="615,2895 586,3500 578,3625 572,3800 566,4090 669,4090 678,3800 688,3625 690,3500 704,2895" fill="url(#lg1)"/>
<rect x="579" y="3609.0" width="106" height="40" rx="14.0" fill="#000" fill-opacity="0.308"/>
<rect x="577" y="3715.0" width="103" height="16" rx="8.0" fill="#000" fill-opacity="0.561"/>
<rect x="573" y="3764.0" width="105" height="22" rx="11.0" fill="#000" fill-opacity="0.640"/>
<rect x="568" y="3902.0" width="107" height="26" rx="13.0" fill="#000" fill-opacity="0.630"/>
<rect x="561" y="3950.0" width="117" height="32" rx="14.0" fill="#000" fill-opacity="0.707"/>
<rect x="566" y="3982.0" width="103" height="20" rx="10.0" fill="#000" fill-opacity="0.612"/>
<rect x="570" y="4044.0" width="95" height="12" rx="6.0" fill="#000" fill-opacity="0.173"/>
<rect x="575" y="4079.0" width="90" height="8" rx="4.0" fill="#000" fill-opacity="0.071"/>
<polygon points="732,2895 708,3500 698,3800 694,4090 800,4090 802,3800 808,3500 820,2895" fill="url(#lg2)"/>
<rect x="703" y="3609.0" width="101" height="40" rx="14.0" fill="#000" fill-opacity="0.249"/>
<rect x="700" y="3715.0" width="102" height="16" rx="8.0" fill="#000" fill-opacity="0.508"/>
<rect x="698" y="3764.0" width="104" height="22" rx="11.0" fill="#000" fill-opacity="0.603"/>
<rect x="694" y="3902.0" width="105" height="26" rx="13.0" fill="#000" fill-opacity="0.590"/>
<rect x="687" y="3950.0" width="117" height="32" rx="14.0" fill="#000" fill-opacity="0.664"/>
<rect x="692" y="3982.0" width="103" height="20" rx="10.0" fill="#000" fill-opacity="0.576"/>
<rect x="695" y="4044.0" width="95" height="12" rx="6.0" fill="#000" fill-opacity="0.161"/>
<rect x="700" y="4079.0" width="90" height="8" rx="4.0" fill="#000" fill-opacity="0.065"/>
<polygon points="847,2895 824,3500 819,3800 815,4090 925,4090 924,3800 930,3500 935,2895" fill="url(#lg3)"/>
<rect x="822" y="3609.0" width="105" height="40" rx="14.0" fill="#000" fill-opacity="0.225"/>
<rect x="820" y="3715.0" width="104" height="16" rx="8.0" fill="#000" fill-opacity="0.487"/>
<rect x="819" y="3764.0" width="104" height="22" rx="11.0" fill="#000" fill-opacity="0.588"/>
<rect x="817" y="3902.0" width="106" height="26" rx="13.0" fill="#000" fill-opacity="0.574"/>
<rect x="811" y="3950.0" width="114" height="32" rx="14.0" fill="#000" fill-opacity="0.647"/>
<rect x="819" y="3982.0" width="99" height="20" rx="10.0" fill="#000" fill-opacity="0.561"/>
<rect x="820" y="4044.0" width="95" height="12" rx="6.0" fill="#000" fill-opacity="0.156"/>
<rect x="825" y="4079.0" width="90" height="8" rx="4.0" fill="#000" fill-opacity="0.062"/>
<polygon points="961,2895 946,3500 941,3800 938,4090 1045,4090 1045,3800 1052,3500 1050,2895" fill="url(#lg4)"/>
<rect x="943" y="3609.0" width="103" height="40" rx="14.0" fill="#000" fill-opacity="0.225"/>
<rect x="942" y="3715.0" width="103" height="16" rx="8.0" fill="#000" fill-opacity="0.487"/>
<rect x="941" y="3764.0" width="103" height="22" rx="11.0" fill="#000" fill-opacity="0.588"/>
<rect x="941" y="3902.0" width="103" height="26" rx="13.0" fill="#000" fill-opacity="0.574"/>
<rect x="934" y="3950.0" width="114" height="32" rx="14.0" fill="#000" fill-opacity="0.647"/>
<rect x="943" y="3982.0" width="99" height="20" rx="10.0" fill="#000" fill-opacity="0.561"/>
<rect x="945" y="4044.0" width="95" height="12" rx="6.0" fill="#000" fill-opacity="0.156"/>
<rect x="950" y="4079.0" width="90" height="8" rx="4.0" fill="#000" fill-opacity="0.062"/>
<polygon points="1077,2915 1067,3500 1062,3800 1058,4090 1165,4090 1167,3800 1165,3500 1167,2915" fill="url(#lg5)"/>
<rect x="1064" y="3614.0" width="104" height="38" rx="14.0" fill="#000" fill-opacity="0.405"/>
<rect x="1064" y="3712.0" width="100" height="14" rx="7.0" fill="#000" fill-opacity="0.676"/>
<rect x="1062" y="3758.0" width="105" height="20" rx="10.0" fill="#000" fill-opacity="0.671"/>
<rect x="1060" y="3892.0" width="107" height="26" rx="13.0" fill="#000" fill-opacity="0.642"/>
<rect x="1055" y="3939.0" width="116" height="36" rx="14.0" fill="#000" fill-opacity="0.708"/>
<rect x="1060" y="3972.0" width="104" height="20" rx="10.0" fill="#000" fill-opacity="0.669"/>
<rect x="1065" y="4029.0" width="95" height="12" rx="6.0" fill="#000" fill-opacity="0.232"/>
<rect x="1070" y="4072.0" width="90" height="8" rx="4.0" fill="#000" fill-opacity="0.076"/>
<polygon points="1192,2915 1187,3500 1184,3800 1180,4090 1285,4090 1286,3800 1285,3500 1282,2915" fill="url(#lg6)"/>
<rect x="1186" y="3614.0" width="100" height="38" rx="14.0" fill="#000" fill-opacity="0.405"/>
<rect x="1185" y="3712.0" width="101" height="14" rx="7.0" fill="#000" fill-opacity="0.676"/>
<rect x="1184" y="3758.0" width="102" height="20" rx="10.0" fill="#000" fill-opacity="0.671"/>
<rect x="1181" y="3892.0" width="108" height="26" rx="13.0" fill="#000" fill-opacity="0.642"/>
<rect x="1176" y="3939.0" width="115" height="36" rx="14.0" fill="#000" fill-opacity="0.708"/>
<rect x="1181" y="3972.0" width="105" height="20" rx="10.0" fill="#000" fill-opacity="0.669"/>
<rect x="1185" y="4029.0" width="95" height="12" rx="6.0" fill="#000" fill-opacity="0.232"/>
<rect x="1190" y="4072.0" width="90" height="8" rx="4.0" fill="#000" fill-opacity="0.076"/>
<polygon points="1307,2915 1302,3500 1303,3800 1300,4090 1405,4090 1406,3800 1400,3500 1400,2915" fill="url(#lg7)"/>
<rect x="1306" y="3614.0" width="99" height="38" rx="14.0" fill="#000" fill-opacity="0.405"/>
<rect x="1304" y="3712.0" width="102" height="14" rx="7.0" fill="#000" fill-opacity="0.676"/>
<rect x="1303" y="3758.0" width="103" height="20" rx="10.0" fill="#000" fill-opacity="0.671"/>
<rect x="1301" y="3892.0" width="107" height="26" rx="13.0" fill="#000" fill-opacity="0.642"/>
<rect x="1296" y="3939.0" width="114" height="36" rx="14.0" fill="#000" fill-opacity="0.708"/>
<rect x="1301" y="3972.0" width="104" height="20" rx="10.0" fill="#000" fill-opacity="0.669"/>
<rect x="1305" y="4029.0" width="95" height="12" rx="6.0" fill="#000" fill-opacity="0.232"/>
<rect x="1310" y="4072.0" width="90" height="8" rx="4.0" fill="#000" fill-opacity="0.076"/>
<polygon points="1425,2915 1420,3500 1422,3800 1418,4090 1525,4090 1525,3800 1520,3500 1515,2915" fill="url(#lg8)"/>
<rect x="1422" y="3614.0" width="103" height="38" rx="14.0" fill="#000" fill-opacity="0.421"/>
<rect x="1422" y="3712.0" width="103" height="14" rx="7.0" fill="#000" fill-opacity="0.695"/>
<rect x="1422" y="3758.0" width="103" height="20" rx="10.0" fill="#000" fill-opacity="0.686"/>
<rect x="1418" y="3892.0" width="109" height="26" rx="13.0" fill="#000" fill-opacity="0.659"/>
<rect x="1415" y="3939.0" width="115" height="36" rx="14.0" fill="#000" fill-opacity="0.726"/>
<rect x="1420" y="3972.0" width="105" height="20" rx="10.0" fill="#000" fill-opacity="0.685"/>
<rect x="1422" y="4029.0" width="98" height="12" rx="6.0" fill="#000" fill-opacity="0.238"/>
<rect x="1425" y="4072.0" width="95" height="8" rx="4.0" fill="#000" fill-opacity="0.079"/>
<polygon points="1537,2930 1540,3500 1544,3800 1545,4090 1640,4090 1642,3800 1638,3500 1632,2930" fill="url(#lg9)"/>
<rect x="1544" y="3717.0" width="96" height="8" rx="4.0" fill="#000" fill-opacity="0.331"/>
<rect x="1544" y="3766.0" width="98" height="18" rx="9.0" fill="#000" fill-opacity="0.384"/>
<rect x="1542" y="3897.0" width="105" height="28" rx="14.0" fill="#000" fill-opacity="0.571"/>
<rect x="1537" y="3941.0" width="114" height="42" rx="14.0" fill="#000" fill-opacity="0.708"/>
<rect x="1542" y="3976.0" width="105" height="20" rx="10.0" fill="#000" fill-opacity="0.594"/>
<rect x="1545" y="4040.0" width="95" height="10" rx="5.0" fill="#000" fill-opacity="0.252"/>
<polygon points="1655,2930 1655,3500 1660,3800 1660,4090 1765,4090 1761,3800 1757,3500 1750,2930" fill="url(#lg10)"/>
<rect x="1656" y="3940.0" width="117" height="64" rx="14.0" fill="#000" fill-opacity="0.725"/>
<rect x="1660" y="4045.0" width="100" height="12" rx="6.0" fill="#000" fill-opacity="0.223"/></g>
<rect x="401.25" y="2816.75" width="1416.5" height="1336.5" fill="none" stroke="#000" stroke-width="8.5"/>
</svg></body></html>
